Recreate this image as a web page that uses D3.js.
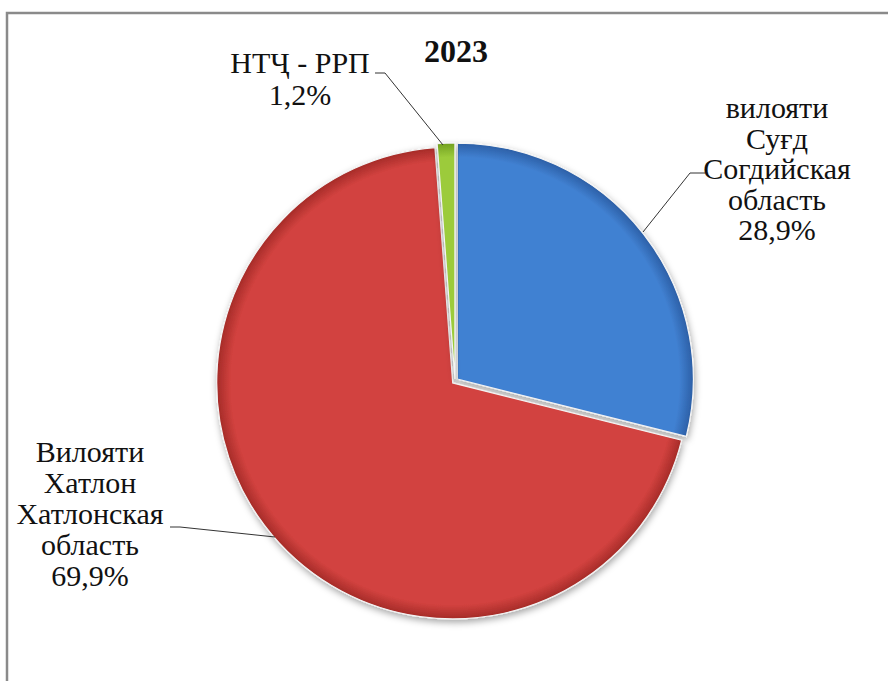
<!DOCTYPE html>
<html>
<head>
<meta charset="utf-8">
<script src="https://cdn.jsdelivr.net/npm/d3@7"></script>
<style>
  body { margin: 0; background: #fff; }
  svg { display: block; }
</style>
</head>
<body>
<svg width="888" height="681"></svg>
<script>
// данные
const regions = ["Суғд", "Хатлон", "НТҶ - РРП"];
const shares = [28.9, 69.9, 1.2];
const labelLines = [
  ["вилояти", "Суғд", "Согдийская", "область", "28,9%"],
  ["Вилояти", "Хатлон", "Хатлонская", "область", "69,9%"],
  ["НТҶ - РРП", "1,2%"]
];
const colors = ["#4181d2", "#d2423f", "#9ccb3b"];
const edgeColors = ["#2c5fa6", "#a52b28", "#72a020"];

const svg = d3.select("svg");
const cx = 455, cy = 381, R = 236;

// рамка
svg.append("rect")
  .attr("x", 7).attr("y", 13)
  .attr("width", 900).attr("height", 700)
  .attr("fill", "none")
  .attr("stroke", "#8a8a8a")
  .attr("stroke-width", 2.5);

const defs = svg.append("defs");
const f = defs.append("filter").attr("id", "shadow")
  .attr("x", "-20%").attr("y", "-20%").attr("width", "140%").attr("height", "140%");
f.append("feDropShadow").attr("dx", 1).attr("dy", 3).attr("stdDeviation", 3.5)
  .attr("flood-color", "#000").attr("flood-opacity", 0.35);

colors.forEach((c, i) => {
  const gr = defs.append("radialGradient").attr("id", "grad" + i)
    .attr("gradientUnits", "userSpaceOnUse")
    .attr("cx", 0).attr("cy", 0).attr("r", R);
  gr.append("stop").attr("offset", "0%").attr("stop-color", c);
  gr.append("stop").attr("offset", "94%").attr("stop-color", c);
  gr.append("stop").attr("offset", "100%").attr("stop-color", edgeColors[i]);
});

const pie = d3.pie().sort(null).value(d => d)(shares);
const arc = d3.arc().innerRadius(0).outerRadius(R);
const explode = [3, 3, 2];

const g = svg.append("g").attr("transform", `translate(${cx},${cy})`);

const slices = g.selectAll("g.slice")
  .data(pie)
  .enter()
  .append("g")
    .attr("class", "slice")
    .attr("transform", (d, i) => {
      const a = (d.startAngle + d.endAngle) / 2;
      return `translate(${Math.sin(a) * explode[i]},${-Math.cos(a) * explode[i]})`;
    });

slices.append("path")
  .attr("d", arc)
  .attr("fill", (d, i) => `url(#grad${i})`)
  .attr("stroke", "#f4f4f4")
  .attr("stroke-width", 1.2)
  .attr("filter", "url(#shadow)");

// подписи (позиции относительно центра)
const labelPos = [
  { x: 322, y: -263, dy: 30.5, lead: [[250, -208], [235, -208], [188, -149]] },
  { x: -365, y: 81, dy: 31, lead: [[-285, 146], [-275, 146], [-180, 156]] },
  { x: -155, y: -308, dy: 32, lead: [[-80, -308], [-70, -308], [-12, -236]] }
];
const k = 0.75; // шрифт 40px, уменьшенный до 30px

labelLines.forEach((lines, i) => {
  const p = labelPos[i];
  lines.forEach((s, j) => {
    svg.append("g")
      .attr("transform", `translate(${cx + p.x},${cy + p.y + j * p.dy}) scale(${k})`)
      .append("text")
        .style("font-family", '"Liberation Serif"')
        .style("font-size", "40px")
        .attr("fill", "#111")
        .attr("text-anchor", "middle")
        .text(s);
  });
  g.append("polyline")
    .attr("points", p.lead.map(q => q.join(",")).join(" "))
    .attr("fill", "none")
    .attr("stroke", "#333")
    .attr("stroke-width", 1);
});

svg.append("text")
  .style("font-family", '"Liberation Serif"')
  .style("font-size", "32px")
  .attr("font-weight", "bold")
  .attr("fill", "#111")
  .attr("x", 456).attr("y", 62)
  .attr("text-anchor", "middle")
  .text("2023");
</script>
</body>
</html>
